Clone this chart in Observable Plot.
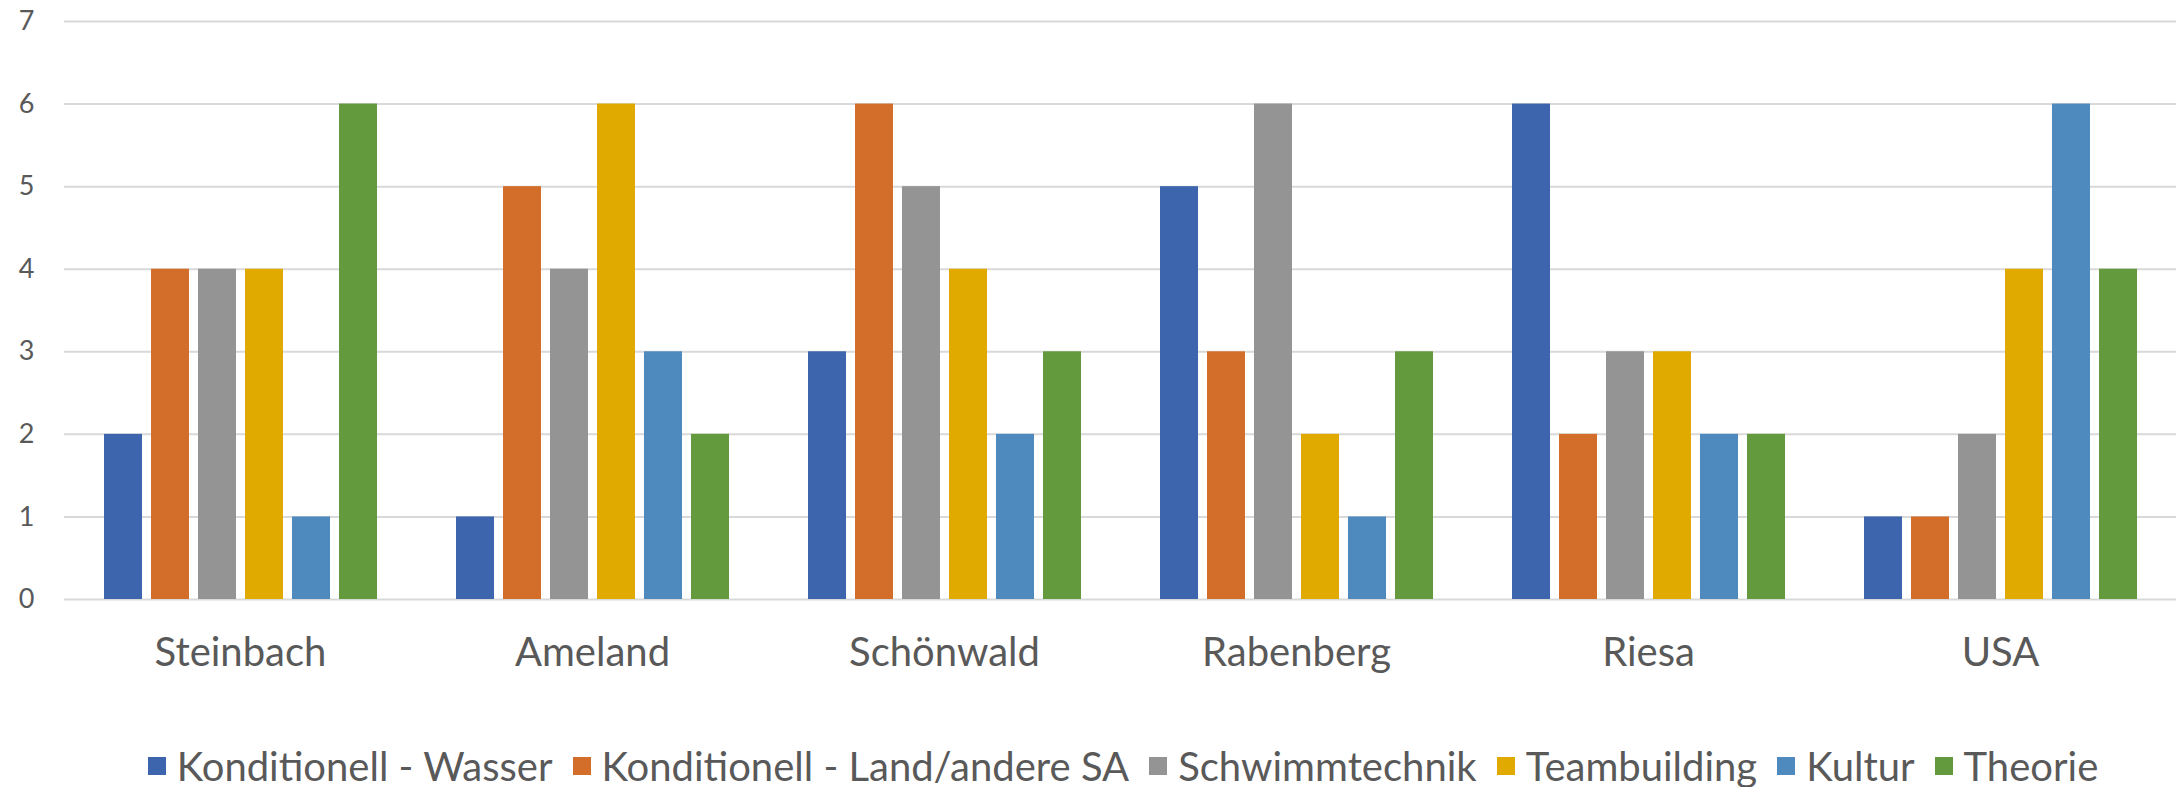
<!DOCTYPE html>
<html>
<head>
<meta charset="utf-8">
<script src="https://cdn.jsdelivr.net/npm/d3@7"></script>
<script src="https://cdn.jsdelivr.net/npm/@observablehq/plot@0.6"></script>
<style>
  html, body { margin: 0; padding: 0; background: #fff; }
  body { width: 2176px; font-family: Lato, "Open Sans", sans-serif; color: #595959; }
  #legend { display: flex; justify-content: center; align-items: center; height: 87px; margin-top: 22px; padding-left: 90px; box-sizing: border-box; width: 2176px; }
  .item { display: flex; align-items: center; margin-right: 20px; font-size: 40px; white-space: nowrap; }
  .sw { width: 18px; height: 18px; margin-right: 11px; display: inline-block; }
</style>
</head>
<body>
<div id="chart"></div>
<div id="legend"></div>
<script>
const sites = ["Steinbach", "Ameland", "Schönwald", "Rabenberg", "Riesa", "USA"];
const series = ["Konditionell - Wasser", "Konditionell - Land/andere SA", "Schwimmtechnik", "Teambuilding", "Kultur", "Theorie"];
const colors = ["#3d65ad", "#d36e2a", "#949494", "#e0aa00", "#4f8abe", "#639a3e"];
const wasser   = [2, 1, 3, 5, 6, 1];
const land     = [4, 5, 6, 3, 2, 1];
const schwimm  = [4, 4, 5, 6, 3, 2];
const team     = [4, 6, 4, 2, 3, 4];
const kultur   = [1, 3, 2, 1, 2, 6];
const theorie  = [6, 2, 3, 3, 2, 4];
const yTicks = [0, 1, 2, 3, 4, 5, 6, 7];

const seriesValues = [wasser, land, schwimm, team, kultur, theorie];
const data = [];
sites.forEach((s, i) => series.forEach((k, j) => data.push({site: s, series: k, value: seriesValues[j][i]})));

const plot = Plot.plot({
  width: 2176,
  height: 700,
  marginLeft: 63,
  marginRight: 0,
  marginTop: 21,
  marginBottom: 101,
  style: {fontFamily: "Lato, 'Open Sans', sans-serif", color: "#595959", background: "#fff"},
  fx: {domain: sites, padding: 0},
  x: {domain: series, paddingInner: 0.2, paddingOuter: 0.78, axis: null},
  y: {domain: [0, 7]},
  color: {domain: series, range: colors},
  marks: [
    Plot.ruleY(yTicks, {stroke: "#d9d9d9", strokeWidth: 2}),
    Plot.barY(data, {fx: "site", x: "series", y: "value", fill: "series"}),
    Plot.axisY({ticks: yTicks, tickSize: 0, tickPadding: 30, fontSize: 27, label: null, tickFormat: d => d}),
    Plot.axisFx({anchor: "bottom", tickSize: 0, tickPadding: 38, fontSize: 40, label: null})
  ]
});
document.getElementById("chart").appendChild(plot);

const legend = document.getElementById("legend");
series.forEach((s, i) => {
  const it = document.createElement("div");
  it.className = "item";
  const sw = document.createElement("span");
  sw.className = "sw";
  sw.style.background = colors[i];
  const tx = document.createElement("span");
  tx.textContent = s;
  it.appendChild(sw);
  it.appendChild(tx);
  legend.appendChild(it);
});
</script>
</body>
</html>
